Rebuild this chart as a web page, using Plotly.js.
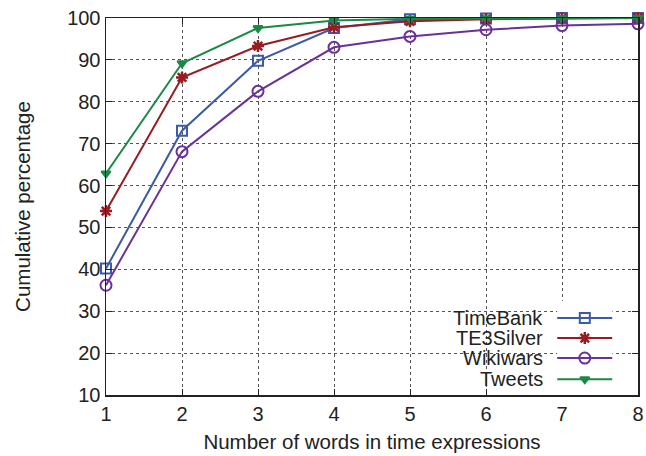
<!DOCTYPE html>
<html><head><meta charset="utf-8">
<script src="https://cdn.plot.ly/plotly-3.0.1.min.js"></script>
<style>html,body{margin:0;padding:0;background:#fff}#c{width:646px;height:456px}</style>
</head><body><div id="c"></div>
<script>
const words = [1,2,3,4,5,6,7,8];
const timebank = [40.2,73.1,89.8,97.6,99.7,99.9,100,100];
const te3silver = [53.9,85.8,93.3,97.8,99.2,99.7,99.9,100];
const wikiwars = [36.2,68.1,82.5,93.0,95.6,97.2,98.2,98.6];
const tweets = [62.9,89.2,97.6,99.4,99.8,99.9,100,100];
const seriesNames = ['TimeBank','TE3Silver','Wikiwars','Tweets'];
const seriesData = [timebank, te3silver, wikiwars, tweets];
const colors = ['#3b5ba8','#971c22','#6a3199','#1a8a45'];
const symbols = ['square-open','asterisk-open','circle-open','triangle-down'];
const sizes = [10,10,11,8];
const xTitle = 'Number of words in time expressions';
const yTitle = 'Cumulative percentage';

const font = {family:'Liberation Sans, Arial, sans-serif', size:20, color:'#222'};
const traces = [];
seriesData.forEach((d,i)=>{
  traces.push({x:words, y:d, type:'scatter', mode:'lines+markers', name:seriesNames[i],
    line:{color:colors[i], width:2},
    marker:{symbol:symbols[i], size:sizes[i], color:colors[i], line:{color:colors[i], width:i===1?2.5:2}},
    cliponaxis:false, showlegend:false});
});
// custom legend: text to the left of the sample, as in the original
const legRows = [0.816,0.604,0.392,0.168];
const annotations = [];
seriesNames.forEach((n,i)=>{
  traces.push({x:[0,0.5,1], y:[legRows[i],legRows[i],legRows[i]], xaxis:'x2', yaxis:'y2',
    type:'scatter', mode:'lines+markers', line:{color:colors[i], width:2},
    marker:{symbol:symbols[i], size:sizes[i], color:colors[i], line:{color:colors[i], width:i===1?2.5:2},
      opacity:[0,1,0]}, showlegend:false, hoverinfo:'skip', cliponaxis:false});
  annotations.push({xref:'paper', yref:'paper', x:0.825, y:legRows[i]*0.25, text:n, showarrow:false,
    xanchor:'right', yanchor:'middle', font:{family:font.family, size:20, color:'#222'}});
});

const layout = {
  width:646, height:456,
  margin:{l:106, r:8, t:18, b:61},
  paper_bgcolor:'#fff', plot_bgcolor:'#fff',
  font: font,
  showlegend:false,
  xaxis:{range:[1,8], dtick:1, tick0:1, showgrid:true, gridcolor:'#555', griddash:'dot', gridwidth:1,
    zeroline:false, showline:true, linecolor:'#222', linewidth:1.5, mirror:'ticks',
    ticks:'inside', ticklen:6, tickcolor:'#222', tickfont:{size:20},
    title:{text:xTitle, font:{family:font.family, size:20.5, color:'#222'}, standoff:11}},
  yaxis:{range:[10,100], dtick:10, showgrid:true, gridcolor:'#555', griddash:'dot', gridwidth:1,
    zeroline:false, showline:true, linecolor:'#222', linewidth:1.5, mirror:'ticks',
    ticks:'inside', ticklen:6, tickcolor:'#222', tickfont:{size:20},
    title:{text:yTitle, font:{family:font.family, size:20.5, color:'#222'}, standoff:31}},
  xaxis2:{domain:[0.848,0.952], range:[0,1], visible:false, anchor:'y2'},
  yaxis2:{domain:[0.0,0.25], range:[0,1], visible:false, anchor:'x2'},
  annotations: annotations
};
Plotly.newPlot('c', traces, layout, {displayModeBar:false, staticPlot:true});
</script></body></html>
